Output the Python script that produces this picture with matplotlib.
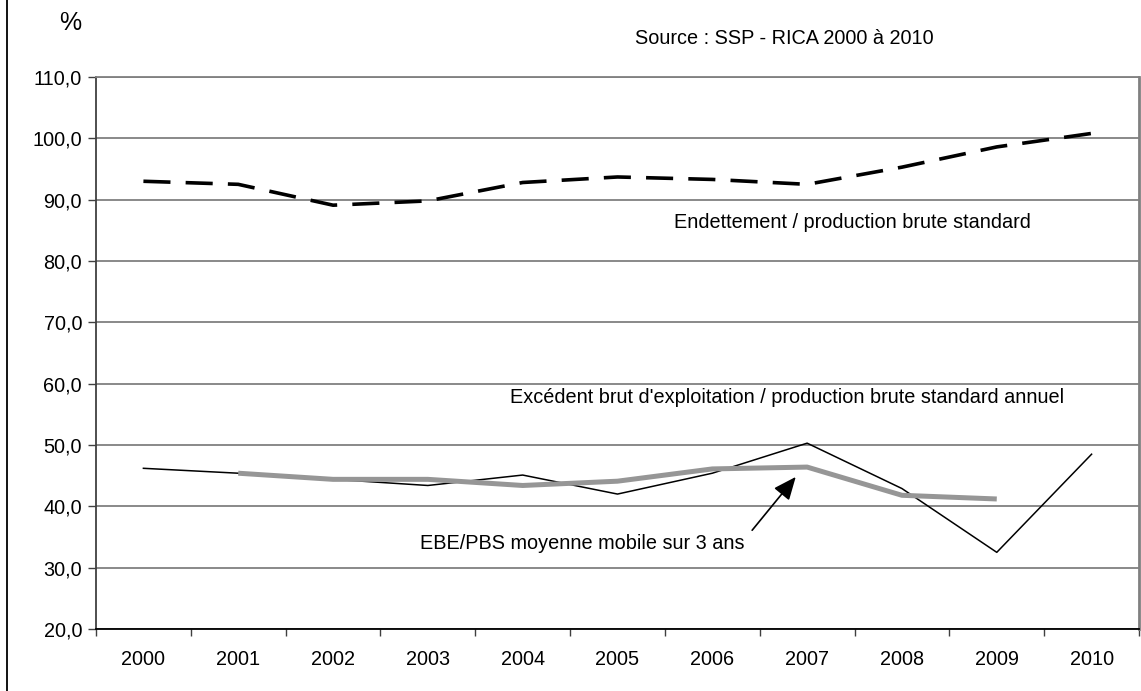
import matplotlib
matplotlib.use("Agg")
import matplotlib.pyplot as plt
import numpy as np

plt.rcParams['font.family'] = ['Liberation Sans', 'DejaVu Sans']

# Données RICA 2000-2010 (en % de la PBS)
years = ['2000', '2001', '2002', '2003', '2004', '2005', '2006', '2007', '2008', '2009', '2010']
endettement = [93.0, 92.5, 89.1, 89.8, 92.8, 93.7, 93.3, 92.5, 95.3, 98.6, 100.8]
ebe_annuel = [46.2, 45.4, 44.4, 43.4, 45.1, 42.0, 45.4, 50.3, 42.9, 32.5, 48.5]
ebe_mm3 = [np.nan, 45.4, 44.4, 44.4, 43.4, 44.1, 46.1, 46.4, 41.8, 41.2, np.nan]
y_ticks = [20, 30, 40, 50, 60, 70, 80, 90, 100, 110]

FS = 14.3

fig = plt.figure(figsize=(11.41, 6.91), dpi=100)
ax = fig.add_axes([96 / 1141, 1 - 629 / 691, 1043 / 1141, 552 / 691])

x = np.arange(len(years))

ax.plot(x, endettement, color='black', lw=2.6, dashes=(7.5, 4.2), solid_capstyle='butt', zorder=3)
ax.plot(x, ebe_annuel, color='black', lw=1.1, zorder=3)
ax.plot(x, ebe_mm3, color='#969696', lw=3.6, solid_capstyle='butt', zorder=4)

ax.set_xlim(-0.5, len(years) - 0.5)
ax.set_ylim(20, 110)

# ticks on category boundaries, labels centered in each category
ax.set_xticks(np.arange(len(years) + 1) - 0.5)
ax.set_xticklabels([])
ax.set_xticks(x, minor=True)
ax.set_xticklabels(years, minor=True, fontsize=FS)
ax.tick_params(axis='x', which='minor', length=0, pad=15)
ax.tick_params(axis='x', which='major', length=5, width=1, color='#404040', direction='out')

ax.set_yticks(y_ticks)
ax.set_yticklabels([f"{v:.1f}".replace('.', ',') for v in y_ticks], fontsize=FS)
ax.tick_params(axis='y', length=6, width=1, color='#404040', direction='out', pad=4)

ax.yaxis.grid(True, color='#808080', lw=1.3)
ax.set_axisbelow(True)

ax.spines['left'].set_color('#404040')
ax.spines['left'].set_linewidth(1.3)
ax.spines['bottom'].set_color('black')
ax.spines['bottom'].set_linewidth(1.3)
ax.spines['right'].set_color('#808080')
ax.spines['right'].set_linewidth(2)
ax.spines['top'].set_color('#808080')
ax.spines['top'].set_linewidth(1.3)

# étiquettes des séries
ax.text(5.6, 86.2, "Endettement / production brute standard", fontsize=FS, ha='left', va='center')
ax.text(3.87, 57.7, "Excédent brut d'exploitation / production brute standard annuel",
        fontsize=FS, ha='left', va='center')
ax.text(2.92, 33.9, "EBE/PBS moyenne mobile sur 3 ans", fontsize=FS, ha='left', va='center')
ax.annotate("", xy=(6.88, 44.8), xytext=(6.42, 36.1),
            arrowprops=dict(arrowstyle='-|>,head_length=1.4,head_width=0.6',
                            color='black', lw=1.2, shrinkA=0, shrinkB=0))

fig.text(635 / 1141, 1 - 38 / 691, "Source : SSP - RICA 2000 à 2010", fontsize=14.3, ha='left', va='center')
fig.text(70 / 1141, 1 - 23 / 691, "%", fontsize=18, ha='center', va='center')

# cadre extérieur à gauche
fig.add_artist(plt.Line2D([7 / 1141, 7 / 1141], [0, 1], color='black', lw=1.3))

fig.savefig('out.png', dpi=100)
